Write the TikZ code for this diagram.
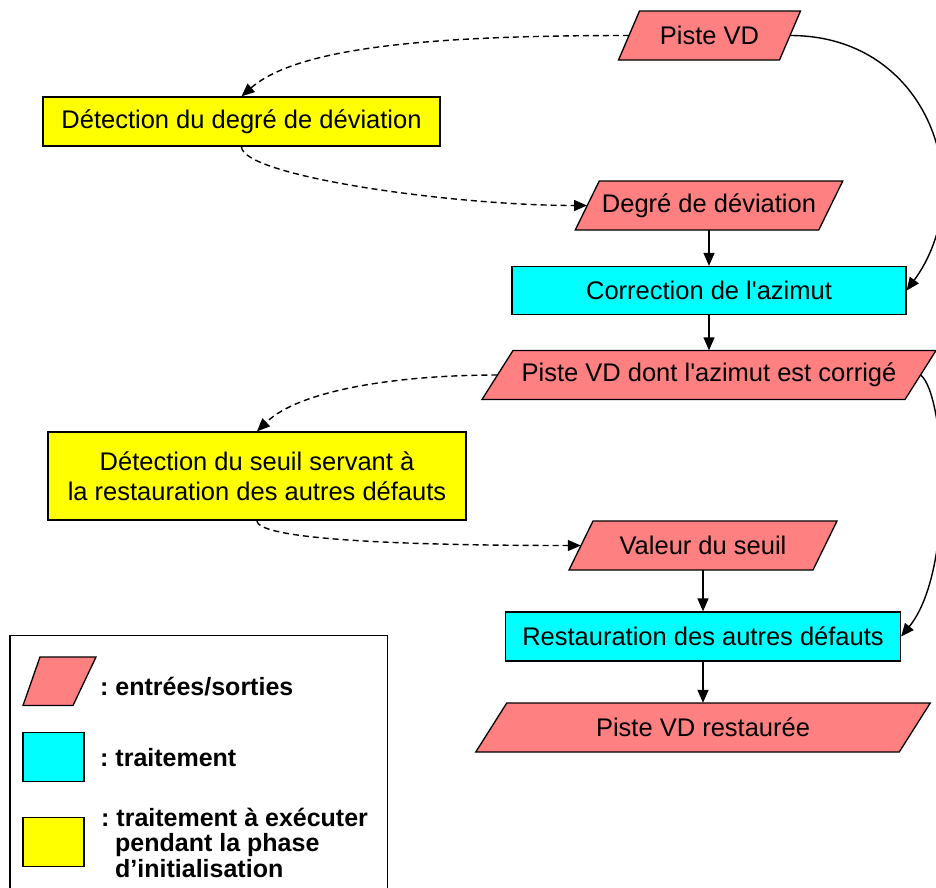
\documentclass[tikz,border=0pt]{standalone}
\usepackage{fontspec}
\setmainfont{Liberation Sans}
\usetikzlibrary{arrows.meta}
\definecolor{iopink}{HTML}{FF8080}
\definecolor{proccyan}{HTML}{00FFFF}
\definecolor{inityellow}{HTML}{FFFF00}
\tikzset{
  txt/.style={font=\fontsize{25.5}{30}\selectfont, inner sep=0pt, align=center},
  legtxt/.style={font=\fontsize{25}{25.5}\selectfont\bfseries\frenchspacing, inner sep=0pt, align=left, anchor=west},
  iofill/.style={fill=iopink, draw=black, line width=1.3pt, line join=miter},
  procbox/.style={txt, draw=black, fill=proccyan, line width=1.3pt},
  initbox/.style={txt, draw=black, fill=inityellow, line width=1.3pt},
  flow/.style={line width=1.4pt, -{Triangle[length=13pt,width=11pt]}},
  initflow/.style={flow, dash pattern=on 6pt off 4pt},
}
% name, cx, cy, width (mid-edge to mid-edge), slant, text
\newcommand\ioshape[6]{%
  \filldraw[iofill] (#2-#4/2+#5/2, #3-24.5) -- (#2+#4/2+#5/2, #3-24.5)
     -- (#2+#4/2-#5/2, #3+24.5) -- (#2-#4/2-#5/2, #3+24.5) -- cycle;
  \node[txt, minimum width=#4pt, minimum height=49pt] (#1) at (#2,#3) {#6};
}
\begin{document}
\begin{tikzpicture}[x=1pt,y=-1pt]
\useasboundingbox (0,0) rectangle (936,887);
\clip (0,0) rectangle (936,887);

% main flow
\ioshape{pvd}{709.5}{35.5}{161}{21}{Piste VD}
\node[initbox, minimum width=397pt, minimum height=49pt] (det1) at (241.5,121.5) {Détection du degré de déviation};
\ioshape{deg}{709}{205.5}{243.5}{24}{Degré de déviation}
\node[procbox, minimum width=394pt, minimum height=48pt] (corr) at (709,290.5) {Correction de l\textquotesingle azimut};
\ioshape{pcor}{709}{375}{423}{31}{Piste VD dont l\textquotesingle azimut est corrigé}
\node[initbox, minimum width=418pt, minimum height=88pt] (det2) at (257,476) {Détection du seuil servant à\\la restauration des autres défauts};
\ioshape{val}{703}{545.5}{244}{24}{Valeur du seuil}
\node[procbox, minimum width=395pt, minimum height=49pt] (rest) at (703,636.5) {Restauration des autres défauts};
\ioshape{pres}{703}{727.5}{423.5}{31}{Piste VD restaurée}

% connectors
\draw[initflow] (pvd.west) .. controls +(-179,0) and +(59,-52) .. (det1.north);
\draw[initflow] (det1.south) .. controls +(0,29) and +(-137,0) .. (deg.west);
\draw[flow] (deg) -- (corr);
\draw[flow] (pvd.east) .. controls +(140,0) and +(73.5,-100.5) .. (corr.east);
\draw[flow] (corr) -- (pcor);
\draw[initflow] (pcor.west) .. controls +(-97,0) and +(43,-42) .. (det2.north);
\draw[initflow] (det2.south) .. controls +(0,20) and +(-161,0) .. (val.west);
\draw[flow] (val) -- (rest);
\draw[flow] (pcor.east) .. controls +(25,20) and +(54,-66) .. (rest.east);
\draw[flow] (rest) -- (pres);

% legend
\draw[line width=1.2pt] (10,635.5) rectangle (387.5,900);
\filldraw[iofill] (40,657) -- (96,657) -- (73,705.5) -- (23,705.5) -- cycle;
\node[inner sep=0pt, minimum width=53pt, minimum height=49pt] (legio) at (59.5,681) {};
\node[procbox, minimum width=61pt, minimum height=49pt] (legproc) at (53.5,757) {};
\node[initbox, minimum width=61pt, minimum height=49pt] (leginit) at (53.5,842) {};
\node[legtxt] (legiotxt) at (100,687) {: entrées/sorties};
\node[legtxt] (legproctxt) at (100,758) {: traitement};
\node[legtxt] (leginittxt) at (101,842.5) {: traitement à exécuter\\\hspace*{14pt}pendant la phase\\\hspace*{14pt}d’initialisation};
\end{tikzpicture}
\end{document}
